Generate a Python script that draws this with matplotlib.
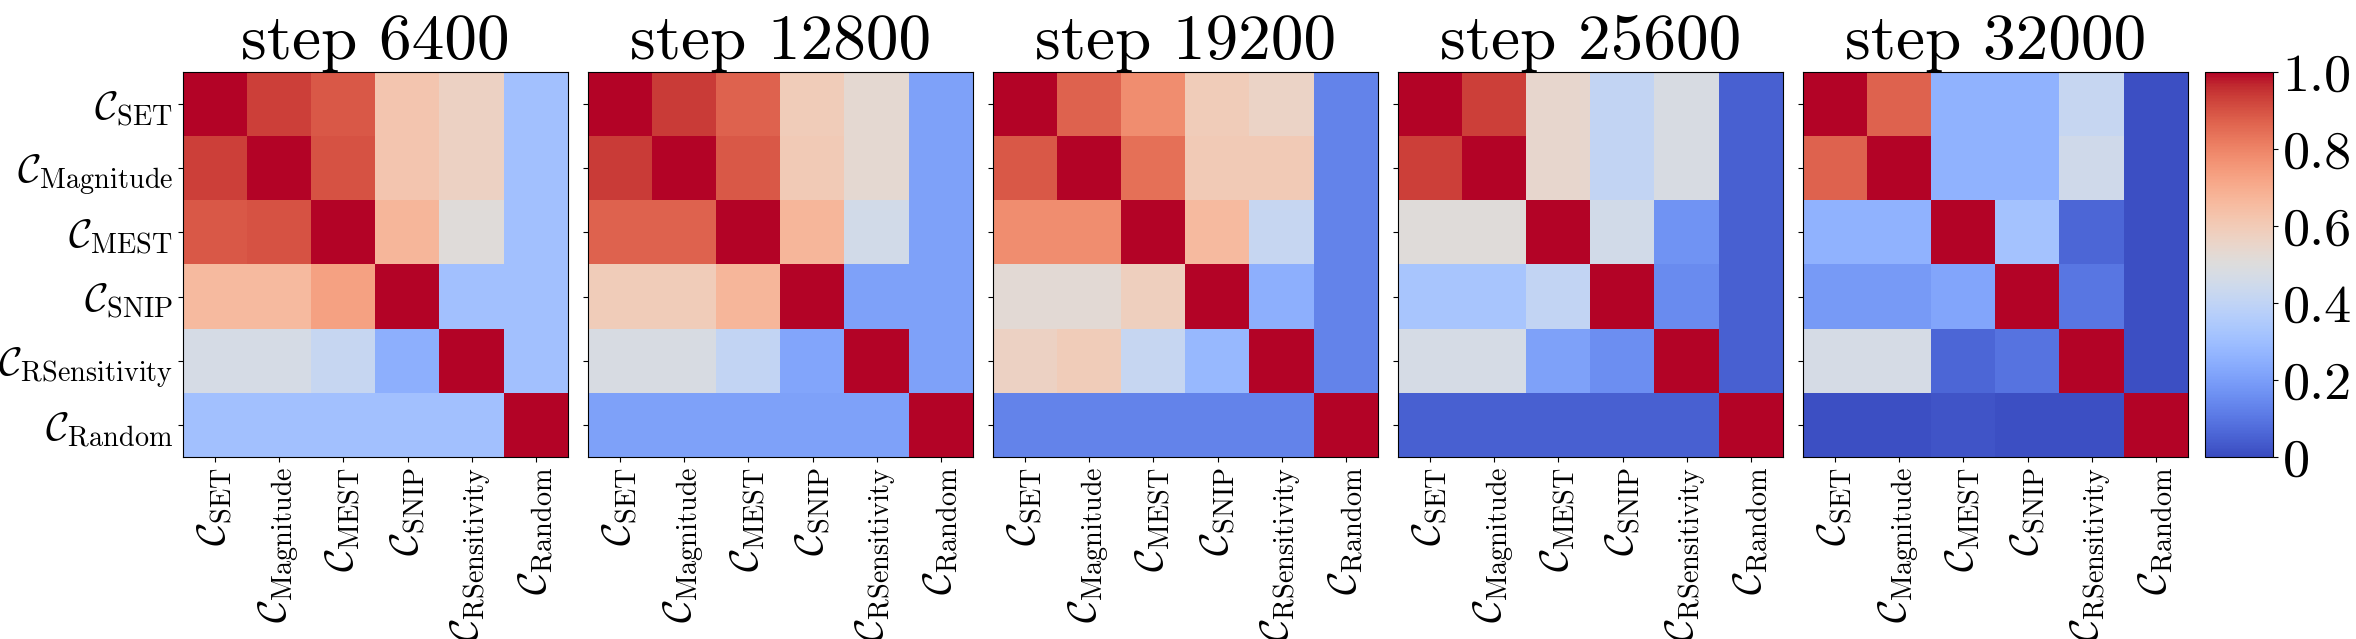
import matplotlib
matplotlib.use('Agg')
import matplotlib.pyplot as plt
import matplotlib.ticker as mt
import numpy as np

plt.rcParams['font.family'] = 'serif'
plt.rcParams['font.serif'] = ['cmr10']
plt.rcParams['mathtext.fontset'] = 'cm'
plt.rcParams['axes.formatter.use_mathtext'] = True

names = ['SET', 'Magnitude', 'MEST', 'SNIP', 'RSensitivity', 'Random']
labels = [r'$\mathcal{C}_{\mathrm{%s}}$' % n for n in names]
steps = [6400, 12800, 19200, 25600, 32000]

# similarity matrices (rows/cols in order of names)
m6400 = [[1.00, 0.93, 0.89, 0.62, 0.57, 0.31],
         [0.93, 1.00, 0.90, 0.62, 0.57, 0.31],
         [0.89, 0.90, 1.00, 0.67, 0.51, 0.31],
         [0.66, 0.66, 0.73, 1.00, 0.31, 0.31],
         [0.47, 0.47, 0.42, 0.25, 1.00, 0.31],
         [0.31, 0.31, 0.31, 0.31, 0.31, 1.00]]
m12800 = [[1.00, 0.94, 0.87, 0.59, 0.53, 0.21],
          [0.94, 1.00, 0.89, 0.60, 0.53, 0.21],
          [0.87, 0.87, 1.00, 0.67, 0.46, 0.21],
          [0.59, 0.59, 0.67, 1.00, 0.21, 0.21],
          [0.48, 0.48, 0.41, 0.22, 1.00, 0.21],
          [0.21, 0.21, 0.21, 0.21, 0.21, 1.00]]
m19200 = [[1.00, 0.87, 0.78, 0.59, 0.56, 0.13],
          [0.89, 1.00, 0.84, 0.60, 0.60, 0.13],
          [0.78, 0.78, 1.00, 0.66, 0.42, 0.13],
          [0.52, 0.52, 0.58, 1.00, 0.25, 0.13],
          [0.57, 0.59, 0.42, 0.28, 1.00, 0.13],
          [0.13, 0.13, 0.13, 0.13, 0.13, 1.00]]
m25600 = [[1.00, 0.93, 0.54, 0.41, 0.48, 0.05],
          [0.93, 1.00, 0.54, 0.41, 0.48, 0.05],
          [0.51, 0.51, 1.00, 0.46, 0.17, 0.05],
          [0.33, 0.33, 0.41, 1.00, 0.15, 0.05],
          [0.47, 0.47, 0.21, 0.16, 1.00, 0.05],
          [0.05, 0.05, 0.05, 0.05, 0.05, 1.00]]
m32000 = [[1.00, 0.87, 0.26, 0.26, 0.42, 0.01],
          [0.87, 1.00, 0.26, 0.26, 0.45, 0.01],
          [0.26, 0.26, 1.00, 0.32, 0.06, 0.01],
          [0.19, 0.19, 0.22, 1.00, 0.10, 0.01],
          [0.47, 0.47, 0.06, 0.09, 1.00, 0.01],
          [0.01, 0.01, 0.02, 0.01, 0.01, 1.00]]
mats = [m6400, m12800, m19200, m25600, m32000]

W, H = 2356, 639
fig = plt.figure(figsize=(W / 100, H / 100), dpi=100)

lefts = [183, 588, 993, 1398, 1803]
top = 72
size = 385
for i, (st, m) in enumerate(zip(steps, mats)):
    ax = fig.add_axes([lefts[i] / W, (H - top - size) / H, size / W, size / H])
    im = ax.imshow(np.array(m), cmap='coolwarm', vmin=0, vmax=1, aspect='auto')
    ax.set_title('step %d' % st, fontsize=47, pad=2)
    ax.set_xticks(range(6))
    ax.set_xticklabels(labels, rotation=90, fontsize=29)
    ax.set_yticks(range(6))
    if i == 0:
        ax.set_yticklabels(labels, fontsize=29)
    else:
        ax.set_yticklabels([])

cax = fig.add_axes([2205 / W, (H - top - size) / H, 68 / W, size / H])
cb = fig.colorbar(im, cax=cax)
cb.set_ticks([0, 0.2, 0.4, 0.6, 0.8, 1.0])
cb.ax.yaxis.set_major_formatter(mt.FuncFormatter(lambda v, p: '0' if v == 0 else '%.1f' % v))
cb.ax.tick_params(labelsize=39)

fig.savefig('out.png', dpi=100)
